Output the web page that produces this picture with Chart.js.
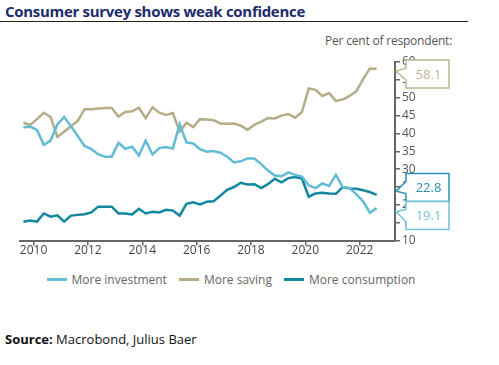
<!DOCTYPE html>
<html>
<head>
<meta charset="utf-8">
<script src="https://cdn.jsdelivr.net/npm/chart.js@4"></script>
<style>
  body { margin: 0; background: #fff; font-family: "Open Sans", sans-serif; }
  #wrap { position: relative; width: 499px; height: 365px; overflow: hidden; }
  #title { position: absolute; left: 5px; top: 1px; font-size: 15px; font-weight: 700; color: #1d2a6c; letter-spacing: -0.3px; }
  #rule { position: absolute; left: 0; top: 21px; width: 468px; height: 1px; background: #222; }
  #unit { position: absolute; left: 325px; top: 32px; font-size: 12px; color: #555; letter-spacing: -0.2px; }
  #source { position: absolute; left: 5px; top: 330px; font-size: 13px; color: #111; }
  #box { position: absolute; left: 0; top: 0; width: 499px; height: 270px; }
  #legend { position: absolute; left: 0; top: 271px; width: 462px; display: flex; justify-content: center; gap: 12px; font-size: 12px; color: #666; }
  #legend span.item { display: flex; align-items: center; }
  #legend span.mark { display: inline-block; width: 20px; height: 3px; margin-right: 5px; }
</style>
</head>
<body>
<div id="wrap">
  <div id="title">Consumer survey shows weak confidence</div>
  <div id="rule"></div>
  <div id="unit">Per cent of respondent:</div>
  <div id="box"><canvas id="chart"></canvas></div>
  <div id="legend"></div>
  <div id="source"><b>Source:</b> Macrobond, Julius Baer</div>
</div>
<script>
const quarters = [
  '2009Q3','2009Q4',
  '2010Q1','2010Q2','2010Q3','2010Q4',
  '2011Q1','2011Q2','2011Q3','2011Q4',
  '2012Q1','2012Q2','2012Q3','2012Q4',
  '2013Q1','2013Q2','2013Q3','2013Q4',
  '2014Q1','2014Q2','2014Q3','2014Q4',
  '2015Q1','2015Q2','2015Q3','2015Q4',
  '2016Q1','2016Q2','2016Q3','2016Q4',
  '2017Q1','2017Q2','2017Q3','2017Q4',
  '2018Q1','2018Q2','2018Q3','2018Q4',
  '2019Q1','2019Q2','2019Q3','2019Q4',
  '2020Q1','2020Q2','2020Q3','2020Q4',
  '2021Q1','2021Q2','2021Q3','2021Q4',
  '2022Q1','2022Q2','2022Q3'
];

const investment = [
  41.7, 41.9, 41.0, 36.8, 38.0, 42.5, 44.6, 42.0, 39.3, 36.5,
  35.6, 34.2, 33.5, 33.5, 37.4, 35.7, 36.3, 33.8, 38.0, 34.1,
  35.9, 36.2, 35.8, 42.6, 37.5, 37.2, 35.6, 34.9, 35.1, 34.6,
  33.5, 31.9, 32.2, 33.0, 33.0, 31.4, 29.6, 28.2, 28.0, 29.1,
  28.4, 27.9, 25.5, 24.7, 26.0, 25.3, 28.4, 25.0, 24.7, 23.0,
  21.0, 17.8, 19.1
];

const saving = [
  43.0, 42.4, 44.0, 45.8, 44.6, 39.0, 40.5, 42.0, 43.5, 46.8,
  46.8, 47.0, 47.1, 47.1, 44.7, 46.0, 46.2, 47.2, 44.3, 47.3,
  45.8, 45.2, 45.7, 40.5, 43.0, 41.8, 44.0, 43.9, 43.7, 42.8,
  42.7, 42.8, 42.2, 41.0, 42.4, 43.3, 44.3, 44.2, 45.0, 45.4,
  44.4, 46.0, 52.6, 52.2, 50.5, 51.3, 49.1, 49.5, 50.5, 51.8,
  55.2, 58.2, 58.1
];

const consumption = [
  15.3, 15.6, 15.3, 17.6, 16.7, 17.1, 15.3, 17.0, 17.2, 17.4,
  17.9, 19.5, 19.5, 19.5, 17.6, 17.6, 17.3, 18.9, 17.6, 18.1,
  17.9, 18.6, 18.4, 17.0, 20.3, 20.7, 20.1, 20.9, 21.0, 22.6,
  24.2, 25.0, 26.2, 25.7, 25.8, 24.7, 25.8, 27.3, 26.3, 27.5,
  27.8, 27.4, 22.3, 23.2, 23.4, 23.2, 23.1, 25.0, 24.6, 24.5,
  24.1, 23.6, 22.8
];

const yearTicks = [2010, 2012, 2014, 2016, 2018, 2020, 2022];
const valueTicks = [10, 15, 20, 25, 30, 35, 40, 45, 50, 55, 60];

const colors = {
  investment: '#62bcd4',
  saving: '#b4ad88',
  consumption: '#12869f'
};

// '2015Q3' -> middle of that quarter as a decimal year
function quarterToYear(q) {
  const y = parseInt(q.slice(0, 4));
  const n = parseInt(q.slice(5));
  return y + (n - 1) / 4 + 0.125;
}

function points(values) {
  return values.map((v, i) => ({ x: quarterToYear(quarters[i]), y: v }));
}

// boxes with a pointer at the right axis, showing the last value of each series
const callouts = {
  id: 'callouts',
  afterDraw(chart) {
    const ctx = chart.ctx;
    const yScale = chart.scales.y;
    const axisX = chart.chartArea.right;
    const h = 28, w = 43, bx = axisX + 11;
    const items = chart.data.datasets.map(ds => {
      const v = ds.data[ds.data.length - 1].y;
      const py = yScale.getPixelForValue(v);
      return { v, py, cy: py, color: ds.calloutColor, text: v.toFixed(1) };
    }).sort((a, b) => a.py - b.py);

    // keep boxes inside the top and push overlapping ones apart
    items.forEach(it => { if (it.cy - h / 2 < chart.chartArea.top - 2) it.cy = chart.chartArea.top - 2 + h / 2; });
    for (let i = 1; i < items.length; i++) {
      const a = items[i - 1], b = items[i];
      if (b.cy - a.cy < h) {
        const mid = (a.cy + b.cy) / 2;
        a.cy = mid - h / 2;
        b.cy = mid + h / 2;
      }
    }

    ctx.save();
    items.forEach(it => {
      const top = it.cy - h / 2, bottom = it.cy + h / 2;
      const tipY = (it.py + it.cy) / 2;
      ctx.beginPath();
      ctx.moveTo(bx, top);
      ctx.lineTo(bx + w, top);
      ctx.lineTo(bx + w, bottom);
      ctx.lineTo(bx, bottom);
      ctx.lineTo(bx, it.cy + 6);
      ctx.lineTo(axisX + 1, tipY);
      ctx.lineTo(bx, it.cy - 6);
      ctx.closePath();
      ctx.fillStyle = '#fff';
      ctx.fill();
      ctx.lineWidth = 1.5;
      ctx.strokeStyle = it.color;
      ctx.stroke();
      ctx.fillStyle = it.color;
      ctx.font = '13px "Open Sans"';
      ctx.textAlign = 'center';
      ctx.textBaseline = 'middle';
      ctx.fillText(it.text, bx + w / 2 + 1, it.cy + 1);
    });
    ctx.restore();
  }
};

const chart = new Chart(document.getElementById('chart'), {
  type: 'line',
  data: {
    datasets: [{
      label: 'More investment',
      data: points(investment),
      borderColor: colors.investment,
      backgroundColor: colors.investment,
      calloutColor: '#72c3d8'
    }, {
      label: 'More saving',
      data: points(saving),
      borderColor: colors.saving,
      backgroundColor: colors.saving,
      calloutColor: '#bdb58f'
    }, {
      label: 'More consumption',
      data: points(consumption),
      borderColor: colors.consumption,
      backgroundColor: colors.consumption,
      calloutColor: '#2591b5'
    }]
  },
  options: {
    responsive: true,
    maintainAspectRatio: false,
    animation: false,
    elements: {
      line: { tension: 0, borderWidth: 2.5 },
      point: { radius: 0 }
    },
    layout: { padding: { left: 20, right: 0, top: 62, bottom: 14 } },
    scales: {
      x: {
        type: 'linear',
        min: 2009.5,
        max: 2023.3,
        afterBuildTicks: s => { s.ticks = yearTicks.map(v => ({ value: v })); },
        grid: { drawOnChartArea: false, color: '#666', tickLength: 5, lineWidth: 1.5 },
        border: { color: '#666', width: 2 },
        ticks: { color: '#444', font: { family: 'Open Sans', size: 12 }, padding: -2, maxRotation: 0, callback: v => String(v) }
      },
      y: {
        position: 'right',
        min: 10,
        max: 60,
        afterBuildTicks: s => { s.ticks = valueTicks.map(v => ({ value: v })); },
        afterFit: s => { s.width = 104; },
        grid: { drawOnChartArea: false, color: '#666', tickLength: 5, lineWidth: 1.5 },
        border: { color: '#666', width: 2 },
        ticks: { color: '#555', font: { family: 'Open Sans', size: 12 }, padding: 2 }
      }
    },
    plugins: {
      legend: { display: false },
      tooltip: { enabled: false }
    }
  },
  plugins: [callouts]
});

// legend in the page, from the datasets
const legend = document.getElementById('legend');
chart.data.datasets.forEach(ds => {
  const item = document.createElement('span');
  item.className = 'item';
  item.innerHTML = '<span class="mark" style="background:' + ds.borderColor + '"></span>' + ds.label;
  legend.appendChild(item);
});
</script>
</body>
</html>
